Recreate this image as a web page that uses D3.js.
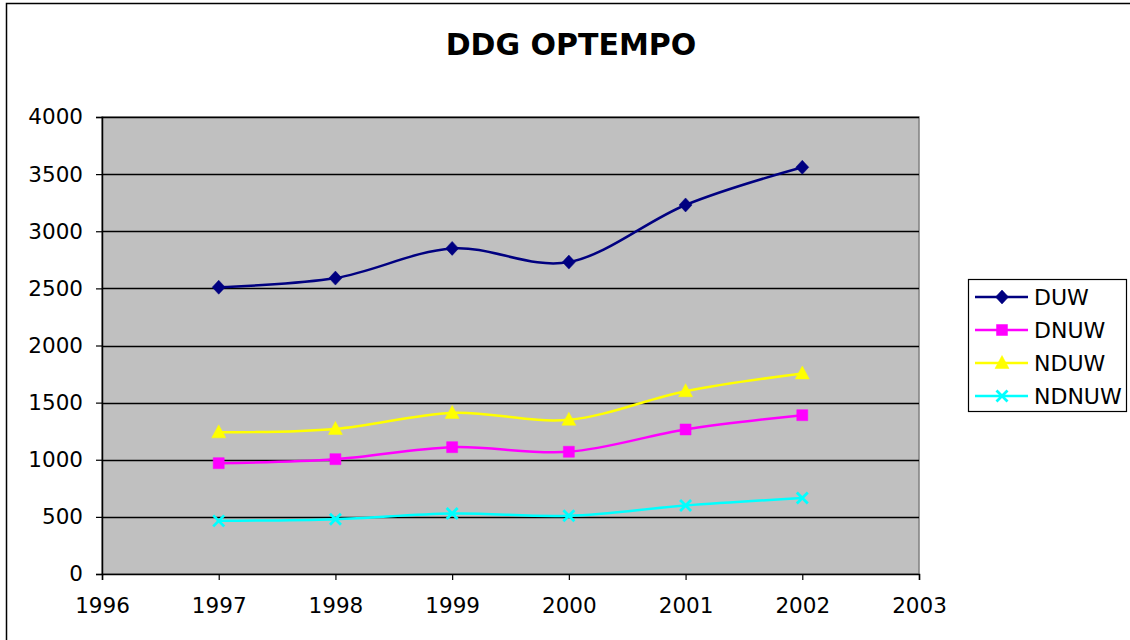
<!DOCTYPE html>
<html>
<head>
<meta charset="utf-8">
<title>DDG OPTEMPO</title>
<script src="https://cdn.jsdelivr.net/npm/d3@7"></script>
<style>
    body { margin: 0; background: #fff; }
    svg { display: block; font-family: "DejaVu Sans", Verdana, sans-serif; }
</style>
</head>
<body>
<svg width="1130" height="640"></svg>
<script>
    // dados
    var anos = [1997, 1998, 1999, 2000, 2001, 2002];
    var series = ["DUW", "DNUW", "NDUW", "NDNUW"];
    var duw = [2510, 2590, 2850, 2730, 3230, 3560];
    var dnuw = [970, 1005, 1110, 1070, 1265, 1390];
    var nduw = [1240, 1270, 1410, 1350, 1600, 1755];
    var ndnuw = [465, 480, 530, 510, 600, 665];
    var anosEixo = [1996, 1997, 1998, 1999, 2000, 2001, 2002, 2003];
    var yTicks = [0, 500, 1000, 1500, 2000, 2500, 3000, 3500, 4000];

    var valores = [duw, dnuw, nduw, ndnuw];
    var cores = ["#000080", "#ff00ff", "#ffff00", "#00ffff"];

    // simbolos no estilo do excel
    var diamante = { draw: function (c) { c.moveTo(0, -7); c.lineTo(6.5, 0); c.lineTo(0, 7); c.lineTo(-6.5, 0); c.closePath(); } };
    var quadrado = { draw: function (c) { c.rect(-5.5, -5.5, 11, 11); } };
    var triangulo = { draw: function (c) { c.moveTo(0, -7.5); c.lineTo(7, 5.5); c.lineTo(-7, 5.5); c.closePath(); } };
    var xis = { draw: function (c) { c.moveTo(-5.5, -5.5); c.lineTo(5.5, 5.5); c.moveTo(5.5, -5.5); c.lineTo(-5.5, 5.5); } };
    var simbolos = [diamante, quadrado, triangulo, xis];

    var svg = d3.select("svg");
    var plot = { left: 102, top: 117, right: 919, bottom: 574 };

    var x = d3.scaleLinear().domain([1996, 2003]).range([plot.left, plot.right]);
    var y = d3.scaleLinear().domain([0, 4000]).range([plot.bottom, plot.top]);

    // moldura externa
    svg.append("rect")
        .attr("x", 6.5).attr("y", 3.5)
        .attr("width", 1140).attr("height", 660)
        .attr("fill", "none").attr("stroke", "#000").attr("stroke-width", 1.5);

    svg.append("text")
        .attr("x", 571).attr("y", 55)
        .attr("text-anchor", "middle")
        .style("font-size", "30px").style("font-weight", "bold")
        .text("DDG OPTEMPO");

    // area de plotagem
    svg.append("rect")
        .attr("x", plot.left).attr("y", plot.top)
        .attr("width", plot.right - plot.left).attr("height", plot.bottom - plot.top)
        .attr("fill", "#c0c0c0").attr("stroke", "#808080").attr("stroke-width", 1.5);

    svg.append("g").selectAll("line")
        .data(yTicks.slice(1))
        .enter().append("line")
        .attr("x1", plot.left).attr("x2", plot.right)
        .attr("y1", function (d) { return Math.round(y(d)) + 0.5; })
        .attr("y2", function (d) { return Math.round(y(d)) + 0.5; })
        .attr("stroke", "#000").attr("stroke-width", 1.3);

    var eixoY = svg.append("g")
        .attr("transform", "translate(" + plot.left + ",0)")
        .call(d3.axisLeft(y).tickValues(yTicks).tickSize(6).tickPadding(13).tickFormat(d3.format("d")));
    var eixoX = svg.append("g")
        .attr("transform", "translate(0," + plot.bottom + ")")
        .call(d3.axisBottom(x).tickValues(anosEixo).tickSize(6).tickPadding(18).tickFormat(d3.format("d")));

    [eixoY, eixoX].forEach(function (g) {
        g.select(".domain").attr("stroke", "#000").attr("stroke-width", 1.5);
        g.selectAll(".tick line").attr("stroke", "#000").attr("stroke-width", 1.2);
        g.selectAll(".tick text").style("font-size", "21.5px").attr("fill", "#000")
            .style("font-family", "DejaVu Sans, Verdana, sans-serif");
    });

    var linha = d3.line()
        .x(function (d, i) { return x(anos[i]); })
        .y(function (d) { return y(d); })
        .curve(d3.curveCatmullRom.alpha(0));

    valores.forEach(function (vals, s) {
        svg.append("path")
            .datum(vals)
            .attr("d", linha)
            .attr("fill", "none")
            .attr("stroke", cores[s])
            .attr("stroke-width", 2.5);

        svg.append("g").selectAll("path")
            .data(vals)
            .enter().append("path")
            .attr("transform", function (d, i) { return "translate(" + x(anos[i]) + "," + y(d) + ")"; })
            .attr("d", d3.symbol().type(simbolos[s]))
            .attr("fill", s === 3 ? "none" : cores[s])
            .attr("stroke", cores[s])
            .attr("stroke-width", s === 3 ? 2.8 : 0.5);
    });

    // legenda
    var leg = svg.append("g").attr("transform", "translate(968,279)");
    leg.append("rect")
        .attr("x", 0.5).attr("y", 0.5).attr("width", 158).attr("height", 132)
        .attr("fill", "#fff").attr("stroke", "#000").attr("stroke-width", 1.2);

    var item = leg.selectAll("g.item")
        .data(series)
        .enter().append("g")
        .attr("class", "item")
        .attr("transform", function (d, i) { return "translate(0," + (18 + i * 33) + ")"; });

    item.append("line")
        .attr("x1", 7).attr("x2", 60)
        .attr("stroke", function (d, i) { return cores[i]; })
        .attr("stroke-width", 2.5);
    item.append("path")
        .attr("transform", "translate(34,0)")
        .attr("d", function (d, i) { return d3.symbol().type(simbolos[i])(); })
        .attr("fill", function (d, i) { return i === 3 ? "none" : cores[i]; })
        .attr("stroke", function (d, i) { return cores[i]; })
        .attr("stroke-width", function (d, i) { return i === 3 ? 2.8 : 0.5; });
    item.append("text")
        .attr("x", 66).attr("dy", "0.36em")
        .style("font-size", "22px")
        .text(function (d) { return d; });
</script>
</body>
</html>
